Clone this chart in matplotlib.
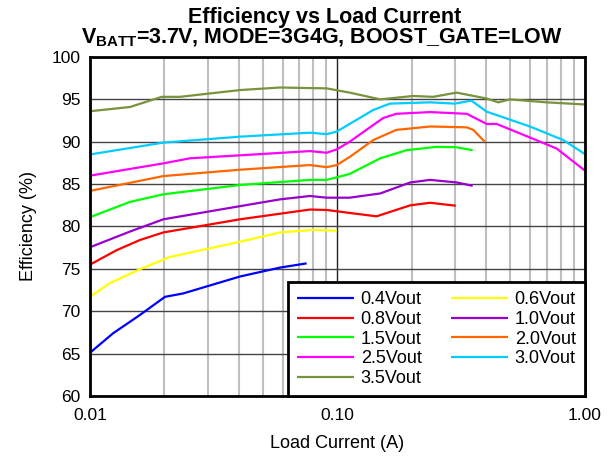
import matplotlib
matplotlib.use('Agg')
import matplotlib.pyplot as plt
from matplotlib.ticker import FixedLocator, NullFormatter

plt.rcParams['font.family'] = ['Liberation Sans', 'DejaVu Sans']
plt.rcParams['mathtext.fontset'] = 'custom'
plt.rcParams['mathtext.rm'] = 'Liberation Sans'
plt.rcParams['mathtext.bf'] = 'Liberation Sans:bold'

# load current (A) and efficiency (%) per output voltage
i_04 = [0.010, 0.0124, 0.0159, 0.0201, 0.0238, 0.0404, 0.0586, 0.0751]
e_04 = [65.1, 67.4, 69.55, 71.7, 72.1, 74.1, 75.15, 75.65]

i_06 = [0.010, 0.0120, 0.0159, 0.0210, 0.0404, 0.0586, 0.0798, 0.0994]
e_06 = [71.7, 73.3, 74.95, 76.4, 78.2, 79.3, 79.6, 79.5]

i_08 = [0.010, 0.0128, 0.0159, 0.0198, 0.0404, 0.0774, 0.0904, 0.112, 0.144, 0.197, 0.237, 0.301]
e_08 = [75.5, 77.2, 78.4, 79.3, 80.85, 82.0, 81.95, 81.6, 81.2, 82.5, 82.8, 82.45]

i_10 = [0.010, 0.0145, 0.0198, 0.0404, 0.0586, 0.0774, 0.0904, 0.112, 0.149, 0.197, 0.237, 0.303, 0.352]
e_10 = [77.55, 79.4, 80.85, 82.4, 83.2, 83.6, 83.4, 83.4, 83.9, 85.2, 85.5, 85.2, 84.8]

i_15 = [0.010, 0.0145, 0.0198, 0.0404, 0.0774, 0.0904, 0.0994, 0.112, 0.149, 0.190, 0.251, 0.303, 0.352]
e_15 = [81.1, 82.9, 83.8, 84.9, 85.5, 85.5, 85.8, 86.2, 88.05, 89.0, 89.4, 89.35, 89.0]

i_20 = [0.010, 0.0198, 0.0404, 0.0774, 0.0904, 0.0994, 0.112, 0.1396, 0.173, 0.237, 0.333, 0.354, 0.394]
e_20 = [84.2, 85.95, 86.7, 87.25, 87.0, 87.25, 88.2, 90.2, 91.4, 91.8, 91.7, 91.4, 90.0]

i_25 = [0.010, 0.0198, 0.0254, 0.0404, 0.0774, 0.0904, 0.0994, 0.112, 0.153, 0.173, 0.237, 0.333, 0.401, 0.44, 0.60, 0.769, 1.0]
e_25 = [86.0, 87.45, 88.05, 88.4, 88.9, 88.7, 89.1, 90.0, 92.8, 93.3, 93.5, 93.3, 92.1, 92.1, 90.5, 89.2, 86.6]

i_30 = [0.010, 0.0198, 0.0404, 0.0774, 0.0904, 0.0994, 0.112, 0.1396, 0.163, 0.237, 0.298, 0.348, 0.401, 0.60, 0.818, 1.0]
e_30 = [88.5, 89.9, 90.6, 91.07, 90.9, 91.2, 92.1, 93.75, 94.5, 94.65, 94.5, 94.85, 93.55, 91.8, 90.2, 88.55]

i_35 = [0.010, 0.0145, 0.0195, 0.0231, 0.0404, 0.0586, 0.0904, 0.112, 0.149, 0.202, 0.244, 0.303, 0.401, 0.447, 0.498, 0.70, 1.0]
e_35 = [93.6, 94.1, 95.3, 95.3, 96.1, 96.4, 96.3, 95.8, 95.0, 95.4, 95.3, 95.8, 95.1, 94.65, 95.0, 94.65, 94.4]

labels = ['0.4Vout', '0.6Vout', '0.8Vout', '1.0Vout', '1.5Vout',
          '2.0Vout', '2.5Vout', '3.0Vout', '3.5Vout']
colors = ['#0000FF', '#FFFF00', '#FF0000', '#9900CC', '#00FF00',
          '#FF6600', '#FF00FF', '#00CCFF', '#77933C']
series = [(i_04, e_04), (i_06, e_06), (i_08, e_08), (i_10, e_10), (i_15, e_15),
          (i_20, e_20), (i_25, e_25), (i_30, e_30), (i_35, e_35)]

fig = plt.figure(figsize=(6.15, 4.62), dpi=100)
ax = fig.add_axes([0.1463, 0.1429, 0.8047, 0.7337])

handles = []
for (x, y), c, lab in zip(series, colors, labels):
    h, = ax.plot(x, y, color=c, lw=1.6, label=lab, solid_capstyle='butt')
    handles.append(h)

ax.set_xscale('log')
ax.set_xlim(0.01, 1.0)
ax.set_ylim(60, 100)
ax.set_yticks([60, 65, 70, 75, 80, 85, 90, 95, 100])
ax.xaxis.set_major_locator(FixedLocator([0.01, 0.1, 1.0]))
ax.set_xticklabels(['0.01', '0.10', '1.00'])
minors = [m * d for d in (0.01, 0.1) for m in range(2, 10)]
ax.xaxis.set_minor_locator(FixedLocator(minors))
ax.xaxis.set_minor_formatter(NullFormatter())
ax.tick_params(which='both', length=0, labelsize=12.5)
ax.tick_params(axis='y', pad=7)
ax.tick_params(axis='x', pad=9)

ax.grid(which='minor', axis='x', color='#BFBFBF', lw=1.5)
ax.grid(which='major', axis='x', color='#222222', lw=1.0)
ax.grid(which='major', axis='y', color='#444444', lw=1.0)
ax.set_axisbelow(True)
for s in ax.spines.values():
    s.set_linewidth(2)
    s.set_color('black')

ax.set_xlabel('Load Current (A)', fontsize=13, labelpad=8)
ax.set_ylabel('Efficiency (%)', fontsize=13, labelpad=10)

fig.text(0.528, 0.962, 'Efficiency vs Load Current', ha='center', va='center',
         fontsize=15.5, fontweight='bold')
fig.text(0.524, 0.917, r'V$_\mathbf{BATT}$=3.7V, MODE=3G4G, BOOST_GATE=LOW',
         ha='center', va='center', fontsize=15.5, fontweight='bold')

order = [0, 2, 4, 6, 8, 1, 3, 5, 7]
leg = ax.legend([handles[k] for k in order], [labels[k] for k in order],
                loc='lower right', ncol=2, fontsize=13, frameon=True,
                fancybox=False, borderaxespad=0, handlelength=3.2,
                handletextpad=0.35, columnspacing=1.6, labelspacing=0.15,
                borderpad=0.5)
leg.get_frame().set_edgecolor('black')
leg.get_frame().set_linewidth(2)
leg.get_frame().set_alpha(1)

fig.savefig('out.png', dpi=100)
